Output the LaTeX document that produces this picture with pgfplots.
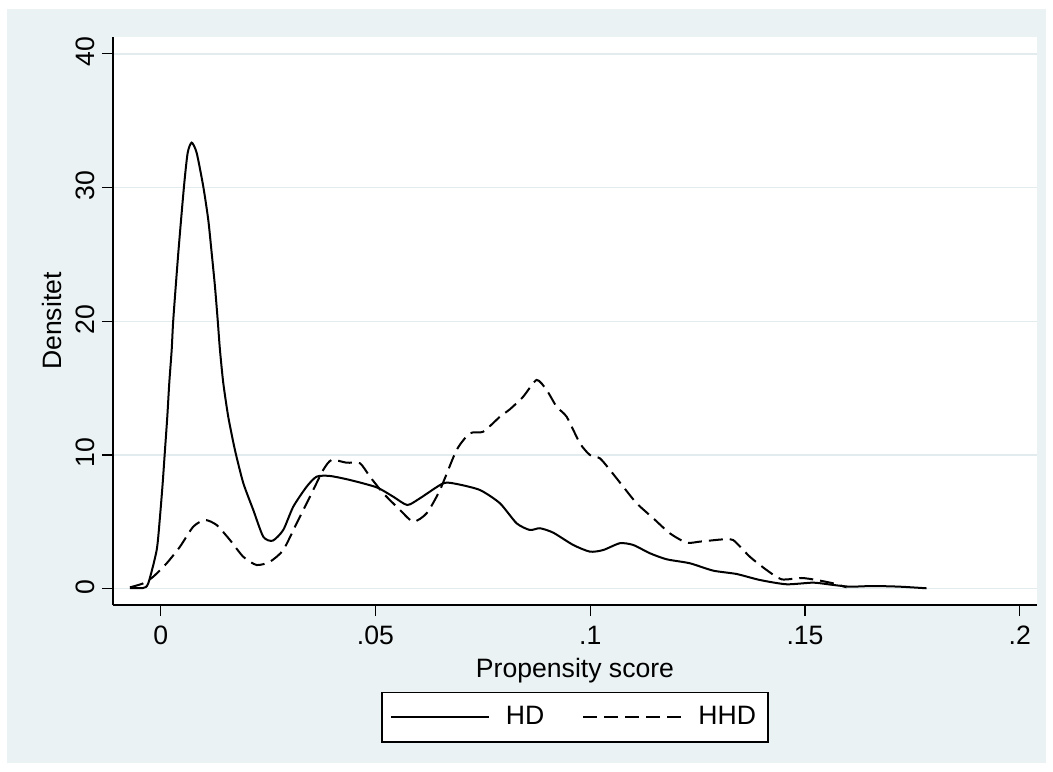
\documentclass[border=0pt]{standalone}
\usepackage{fontspec}
\setmainfont{Liberation Sans}
\usepackage{pgfplots}
\pgfplotsset{compat=1.18}
\definecolor{bg}{RGB}{234,242,243}
\definecolor{gridc}{RGB}{226,236,239}
\newcommand\f{\fontsize{13.3bp}{15bp}\selectfont}
\begin{document}
\begin{tikzpicture}
\fill[white] (0,0) rectangle (526.5bp,386bp);
\fill[bg] (3.5bp,4.5bp) rectangle (523bp,381.5bp);
\begin{axis}[
  at={(56.5bp,83.5bp)}, anchor=south west,
  scale only axis, width=462bp, height=284bp,
  xmin=-0.0111, xmax=0.204, ymin=-1.22, ymax=41.26,
  axis x line*=bottom, axis y line*=left,
  axis line style={line width=0.7bp, black, -},
  axis background/.style={fill=white},
  xtick={0,0.05,0.1,0.15,0.2}, xticklabels={0,.05,.1,.15,.2},
  ytick={0,10,20,30,40}, yticklabels={0,10,20,30,40},
  tick align=outside, major tick length=5.5bp,
  tick style={line width=0.6bp, black},
  minor tick num=0,
  ymajorgrids, major grid style={line width=0.75bp, gridc},
  ticklabel style={font=\f},
  xticklabel style={yshift=-1.5bp},
  yticklabel style={rotate=90, anchor=south, xshift=1bp},
  xlabel={Propensity score}, ylabel={Densitet},
  label style={font=\f},
  xlabel style={at={(axis description cs:0.5,-0.1285)}, anchor=base},
  ylabel style={at={(axis description cs:-0.0663,0.5)}, anchor=center},
  legend columns=2,
  legend cell align=left,
  legend style={at={(0.5,-0.1532)}, anchor=north, draw=black, line width=0.6bp,
    fill=white, font=\f, inner xsep=4bp, inner ysep=5bp,
    nodes={inner sep=2bp},
    /tikz/every odd column/.append style={column sep=6bp},
    /tikz/every even column/.append style={column sep=17bp}},
  legend image code/.code={\draw[#1] (0bp,0bp) -- (49bp,0bp);},
  clip=false,
]
\addplot[black, line width=1bp, smooth, tension=0.4] coordinates {
(-0.00715,0.05) (-0.00412,0.05) (-0.00289,0.40) (-0.00093,2.89) (-0.00016,5.39)
(0.00047,7.91) (0.00100,10.37) (0.00154,12.86) (0.00200,15.39) (0.00256,17.85)
(0.00293,20.10) (0.00410,25.11) (0.00542,30.07) (0.00628,32.59) (0.00722,33.36)
(0.00838,32.59) (0.00992,30.07) (0.01108,27.58) (0.01187,25.11) (0.01264,22.59)
(0.01327,20.10) (0.01380,17.85) (0.01457,15.39) (0.01573,12.86) (0.01729,10.37)
(0.01922,7.91) (0.02155,5.89) (0.02388,3.89) (0.02607,3.59) (0.02853,4.39)
(0.03086,6.13) (0.03398,7.63) (0.03631,8.38) (0.03940,8.43) (0.04406,8.13)
(0.05027,7.58) (0.05414,6.88) (0.05740,6.26) (0.06035,6.76) (0.06577,7.88)
(0.06889,7.83) (0.07432,7.38) (0.07897,6.39) (0.08286,4.89) (0.08595,4.39)
(0.08828,4.52) (0.09138,4.19) (0.09603,3.27) (0.09992,2.77) (0.10301,2.89)
(0.10690,3.40) (0.11000,3.27) (0.11388,2.65) (0.11777,2.20) (0.12319,1.90)
(0.12862,1.35) (0.13406,1.10) (0.13949,0.65) (0.14570,0.33) (0.15189,0.45)
(0.15655,0.28) (0.16043,0.15) (0.16585,0.20) (0.17206,0.15) (0.17828,0.03)
};
\addlegendentry{HD}
\addplot[black, line width=1bp, dash pattern=on 7bp off 3.5bp, smooth, tension=0.4] coordinates {
(-0.00715,0.10) (-0.00405,0.40) (-0.00172,0.90) (0.00140,1.90) (0.00449,3.14)
(0.00759,4.64) (0.01031,5.14) (0.01303,4.76) (0.01613,3.64) (0.01922,2.39)
(0.02234,1.77) (0.02544,2.02) (0.02853,2.89) (0.03165,4.89) (0.03475,6.88)
(0.03784,8.88) (0.03980,9.63) (0.04329,9.42) (0.04639,9.38) (0.04871,8.38)
(0.05181,7.14) (0.05570,5.89) (0.05879,5.01) (0.06191,5.64) (0.06501,7.38)
(0.06889,10.37) (0.07199,11.62) (0.07508,11.74) (0.07897,12.86) (0.08130,13.42)
(0.08439,14.36) (0.08751,15.61) (0.08984,14.86) (0.09217,13.61) (0.09450,12.86)
(0.09759,10.88) (0.09992,10.00) (0.10225,9.75) (0.10458,8.88) (0.10767,7.63)
(0.11079,6.39) (0.11465,5.27) (0.11854,4.14) (0.12242,3.44) (0.12552,3.52)
(0.13094,3.69) (0.13327,3.64) (0.13715,2.39) (0.14104,1.40) (0.14454,0.70)
(0.14919,0.80) (0.15268,0.65) (0.15655,0.40) (0.15967,0.10)
};
\addlegendentry{HHD}
\end{axis}
\pgfresetboundingbox
\path (0,0) rectangle (526.5bp,386bp);
\end{tikzpicture}
\end{document}
